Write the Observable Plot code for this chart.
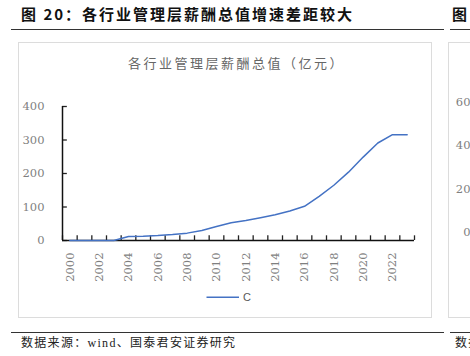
<!DOCTYPE html>
<html>
<head>
<meta charset="utf-8">
<script src="https://cdn.jsdelivr.net/npm/d3@7"></script>
<script src="https://cdn.jsdelivr.net/npm/@observablehq/plot@0.6"></script>
<style>
  html, body { margin: 0; padding: 0; background: #fff; }
  body { width: 470px; height: 356px; position: relative; overflow: hidden; }
  .abs { position: absolute; white-space: nowrap; }
  .title { font-family: "Noto Sans CJK SC", sans-serif; font-weight: bold; font-size: 15px; line-height: 15px; letter-spacing: 2px; color: #111; }
  .rule { position: absolute; height: 1.5px; background: #333; }
  .box { position: absolute; border: 1px solid #dcdcdc; box-sizing: border-box; }
  .ctitle { font-family: "Noto Sans CJK SC", sans-serif; font-size: 13px; line-height: 13px; letter-spacing: 2.5px; color: #666; }
  .foot { font-family: "Liberation Serif", "Noto Sans CJK SC", serif; font-size: 12px; line-height: 12px; letter-spacing: 1.3px; color: #222; }
  .legend { font-family: "Liberation Sans Narrow", "Liberation Sans", sans-serif; font-size: 11px; line-height: 11px; color: #595959; }
</style>
</head>
<body>
<script>
// ---- data ----
const years = [2000, 2001, 2002, 2003, 2004, 2005, 2006, 2007, 2008, 2009, 2010, 2011,
               2012, 2013, 2014, 2015, 2016, 2017, 2018, 2019, 2020, 2021, 2022, 2023];
const values = [0, 0, 0, 0, 12, 13, 15, 18, 22, 30, 42, 53,
                60, 68, 77, 88, 102, 132, 165, 204, 249, 291, 316, 316];
const xTickLabels = [2000, 2002, 2004, 2006, 2008, 2010, 2012, 2014, 2016, 2018, 2020, 2022];
const yTicks = [0, 100, 200, 300, 400];
const seriesName = "C";
const rightYTicks = [0, 20, 40, 60];
const titleText = "图 20：各行业管理层薪酬总值增速差距较大";
const chartTitle = "各行业管理层薪酬总值（亿元）";
const footText = "数据来源：wind、国泰君安证券研究";

const lineColor = "#4472C4";
const labelColor = "#7f7f7f";

function el(cls, css, text) {
  const d = document.createElement("div");
  d.className = cls;
  d.style.cssText = css;
  if (text != null) d.textContent = text;
  document.body.appendChild(d);
  return d;
}

// header / footer
el("abs title", "left:21px;top:6px;", titleText);
el("abs title", "left:452px;top:6px;letter-spacing:0;", "图");
el("rule", "left:11px;top:28.5px;width:433px;");
el("rule", "left:450px;top:28.5px;width:20px;");
el("rule", "left:11px;top:331.5px;width:433px;");
el("rule", "left:450px;top:331.5px;width:20px;");
el("abs foot", "left:21px;top:337px;", footText);
el("abs foot", "left:455px;top:337px;", "数据");

// boxes
el("box", "left:18px;top:42px;width:414px;height:276px;");
el("box", "left:448px;top:42px;width:40px;height:276px;");

// chart title
el("abs ctitle", "left:128px;top:56px;", chartTitle);

// boundaries between year bands (for tick marks)
const bounds = years.map(y => y - 0.5).concat([years[years.length - 1] + 0.5]);
const x0 = bounds[0], x1 = bounds[bounds.length - 1];

const chart = Plot.plot({
  width: 412,
  height: 200,
  marginLeft: 43,
  marginRight: 17,
  marginTop: 16,
  marginBottom: 50,
  style: { fontFamily: "DejaVu Serif, serif", fontSize: "11.5px", color: labelColor, background: "transparent" },
  x: { type: "linear", domain: [x0, x1] },
  y: { domain: [0, 400] },
  marks: [
    Plot.axisY(yTicks, { tickSize: 0, tickPadding: 18, fill: labelColor, fontSize: 11.5 }),
    Plot.axisX(xTickLabels, { tickSize: 0, tickPadding: 12, tickRotate: -90, tickFormat: d => String(d), fill: labelColor, fontSize: 11.5 }),
    Plot.ruleY(yTicks, { x1: x0, x2: x0 + 0.33, stroke: "#222", strokeWidth: 1.3 }),
    Plot.ruleX(bounds, { y1: 0, y2: 14, stroke: "#222", strokeWidth: 1.3 }),
    Plot.ruleX([x0], { stroke: "#111", strokeWidth: 1.5 }),
    Plot.ruleY([0], { x1: x0, x2: x1, stroke: "#111", strokeWidth: 1.5 }),
    Plot.lineY(values, { x: years, y: values, stroke: lineColor, strokeWidth: 1.5 })
  ]
});
chart.style.position = "absolute";
chart.style.left = "19px";
chart.style.top = "90px";
document.body.appendChild(chart);

// legend
const lg = el("abs", "left:206px;top:291px;height:12px;");
lg.innerHTML = `<svg width="34" height="12" style="position:absolute;left:0;top:0"><line x1="0.5" x2="33" y1="6.3" y2="6.3" stroke="${lineColor}" stroke-width="1.5"/></svg>`;
el("abs legend", "left:243px;top:292px;", seriesName);

// partial neighbouring chart on the right
const right = Plot.plot({
  width: 40,
  height: 200,
  marginLeft: 31,
  marginRight: 0,
  marginTop: 11.7,
  marginBottom: 58.3,
  style: { fontFamily: "DejaVu Serif, serif", fontSize: "11.5px", color: labelColor, background: "transparent" },
  y: { domain: [0, 60] },
  x: { domain: [0, 1], axis: null },
  marks: [
    Plot.axisY(rightYTicks, { tickSize: 0, tickPadding: 0, fill: labelColor, fontSize: 11.5 })
  ]
});
right.style.position = "absolute";
right.style.left = "439px";
right.style.top = "90px";
document.body.appendChild(right);
</script>
</body>
</html>
